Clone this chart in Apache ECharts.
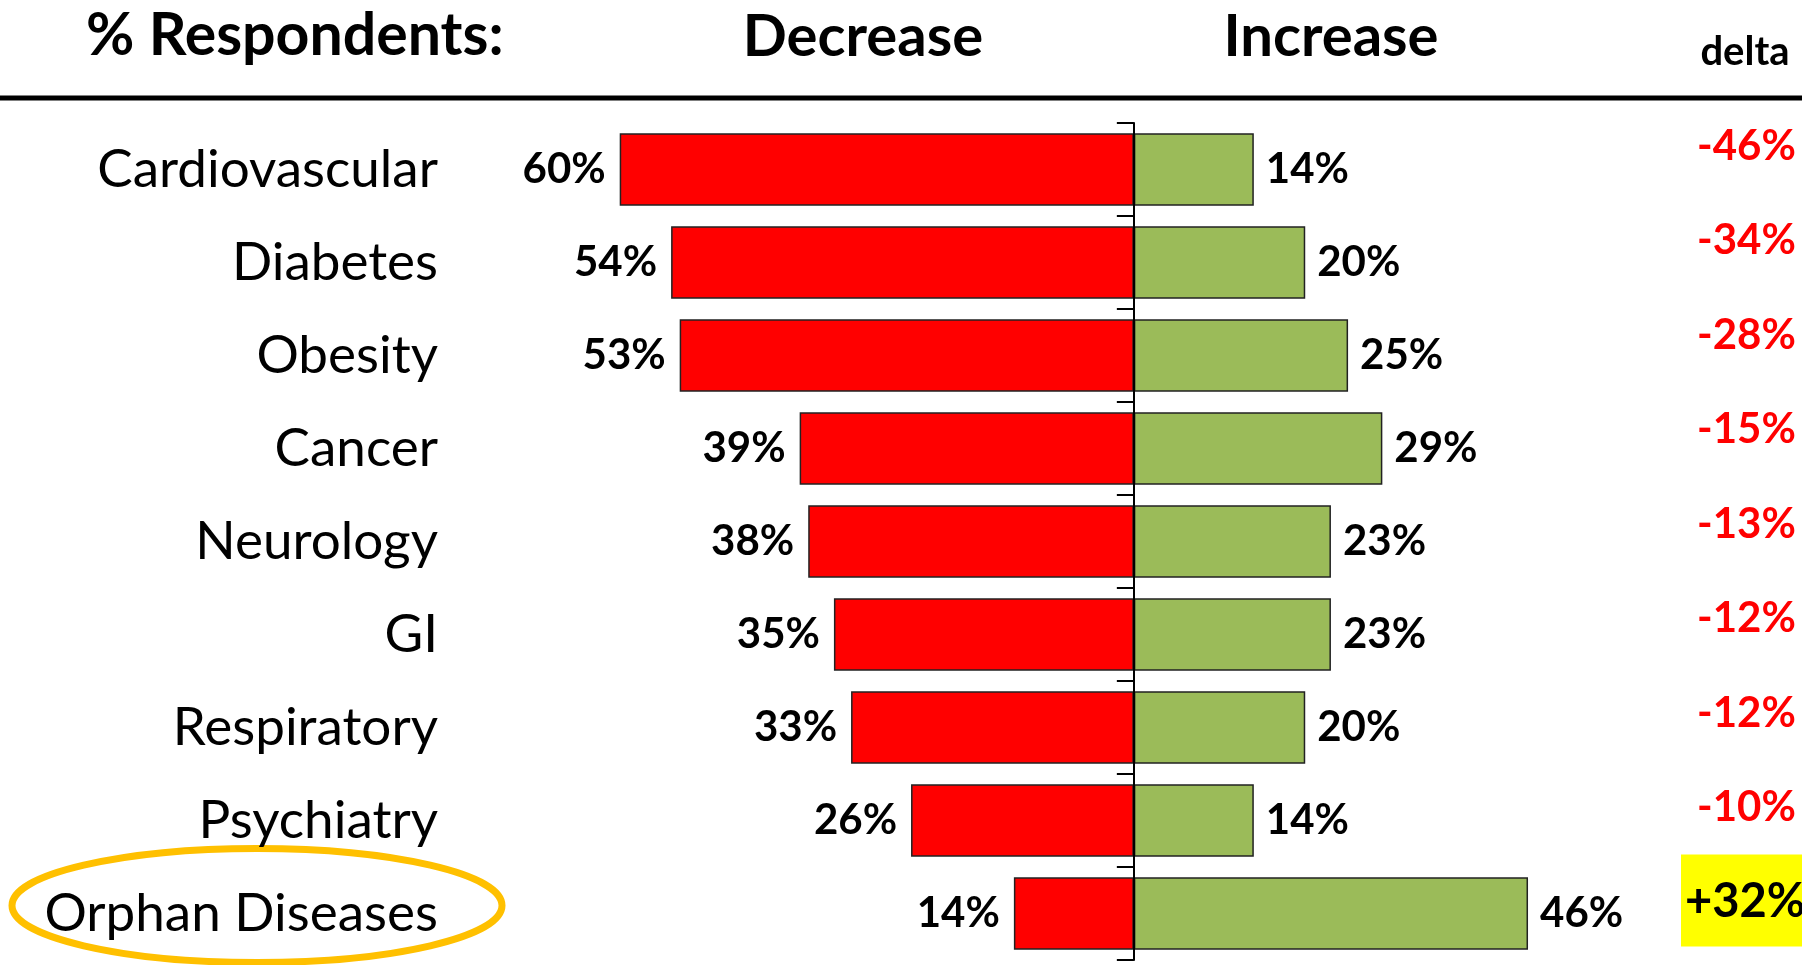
<!DOCTYPE html>
<html><head><meta charset="utf-8">
<script src="https://cdn.jsdelivr.net/npm/echarts@6/dist/echarts.min.js"></script>
<style>html,body{margin:0;padding:0;background:#fff}#c{width:1802px;height:965px}</style>
</head><body><div id="c"></div>
<script>
const categories = ['Cardiovascular','Diabetes','Obesity','Cancer','Neurology','GI','Respiratory','Psychiatry','Orphan Diseases'];
const decreaseValues = [60,54,53,39,38,35,33,26,14];
const increaseValues = [14,20,25,29,23,23,20,14,46];
const deltaValues = [-46,-34,-28,-15,-13,-12,-12,-10,32];
const headerLabels = ['% Respondents:','Decrease','Increase','delta'];
const highlightCategory = 'Orphan Diseases';

const F = 'Lato';
const chart = echarts.init(document.getElementById('c'), null, {renderer:'canvas'});

const rich = {};
deltaValues.forEach((d,i)=>{
  const s = Math.round(23 - 1.44*i);
  rich['n'+i] = {color:'#FF0000', fontWeight:'bold', fontSize:42, fontFamily:F, lineHeight:46, padding:[0,0,2*s,16]};
});
rich.hl = {color:'#000', fontWeight:'bold', fontSize:47, fontFamily:F, lineHeight:50, backgroundColor:'#FFFF00', padding:[24,60,21,4]};
rich.sp = {fontSize:10, lineHeight:26};

const option = {
  animation:false,
  backgroundColor:'#fff',
  grid:{left:534, right:154, top:123, bottom:5, containLabel:false, outerBoundsMode:'none'},
  xAxis:{type:'value', min:-70, max:60, show:false},
  yAxis:[
    {type:'category', data:categories, inverse:true, position:'left',
     axisLine:{show:false, onZero:false}, axisTick:{show:false}, splitLine:{show:false},
     axisLabel:{interval:0, margin:96, color:'#000', fontFamily:F, fontSize:53, fontWeight:'normal'}},
    {type:'category', data:categories, inverse:true, position:'left', z:10,
     axisLine:{show:true, onZero:true, lineStyle:{color:'#000', width:2}},
     axisTick:{show:true, length:17, lineStyle:{color:'#000', width:2}},
     axisLabel:{show:false}, splitLine:{show:false}},
    {type:'category', data:categories, inverse:true, position:'right',
     axisLine:{show:false, onZero:false}, axisTick:{show:false}, splitLine:{show:false},
     axisLabel:{interval:0, margin:33, align:'left', rich:rich,
       formatter:(v,i)=>{const d=deltaValues[i]; const t=(d>0?'+':'')+d+'%'; return d>0?`{hl|${t}}\n{sp| }`:`{n${i}|${t}}`;}}}
  ],
  series:[
    {name:'Decrease', type:'bar', stack:'s', yAxisIndex:0, barWidth:'78%',
     data:decreaseValues.map(v=>-v),
     itemStyle:{color:'#FF0000', borderColor:'#222', borderWidth:1.5},
     label:{show:true, position:'left', distance:14, color:'#000', fontFamily:F, fontWeight:'bold', fontSize:42,
       formatter:p=>Math.abs(p.value)+'%'}},
    {name:'Increase', type:'bar', stack:'s', yAxisIndex:0, barWidth:'78%',
     data:increaseValues,
     itemStyle:{color:'#9BBB59', borderColor:'#222', borderWidth:1.5},
     label:{show:true, position:'right', distance:12, color:'#000', fontFamily:F, fontWeight:'bold', fontSize:42,
       formatter:p=>p.value+'%'}}
  ],
  graphic:[
    {type:'line', id:'topline', shape:{x1:0,y1:98,x2:1802,y2:98}, style:{stroke:'#000', lineWidth:5}},
    {type:'text', id:'h0', x:86, y:36, style:{text:headerLabels[0], font:'bold 59px Lato', fill:'#000', align:'left', verticalAlign:'middle'}},
    {type:'text', id:'h1', x:863, y:37, style:{text:headerLabels[1], font:'bold 58px Lato', fill:'#000', align:'center', verticalAlign:'middle'}},
    {type:'text', id:'h2', x:1331, y:37, style:{text:headerLabels[2], font:'bold 58px Lato', fill:'#000', align:'center', verticalAlign:'middle'}},
    {type:'text', id:'h3', x:1745, y:52, style:{text:headerLabels[3], font:'bold 40px Lato', fill:'#000', align:'center', verticalAlign:'middle'}}
  ]
};
chart.setOption(option);
const cy = chart.convertToPixel({yAxisIndex:0}, highlightCategory);
chart.setOption({graphic:[
  {type:'ellipse', id:'ring', shape:{cx:257, cy:cy-8, rx:245, ry:57}, style:{fill:'none', stroke:'#FFC000', lineWidth:7}, z:-1}
]});
</script>
</body></html>
